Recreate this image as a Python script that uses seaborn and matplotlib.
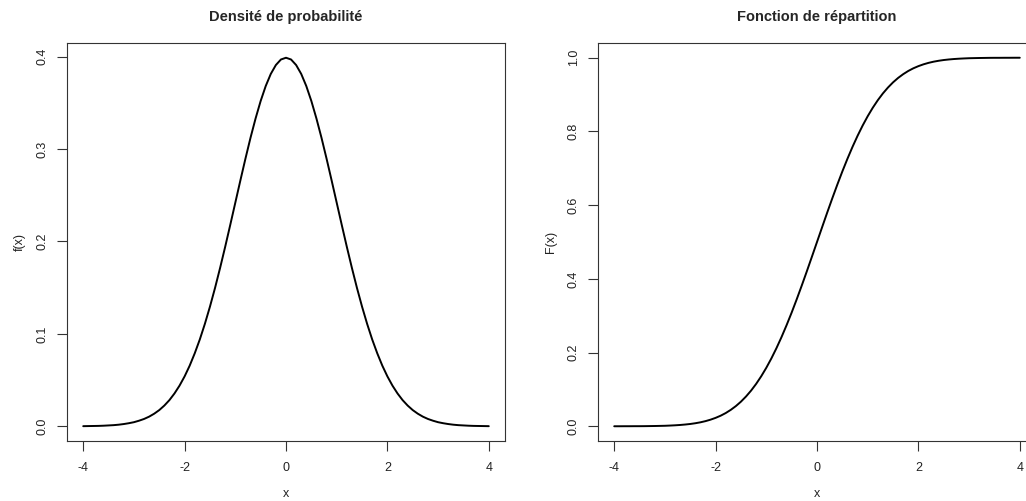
import matplotlib
matplotlib.use("Agg")
import matplotlib.pyplot as plt
import seaborn as sns
import pandas as pd

x_vals = [-4.0, -3.9, -3.8, -3.7, -3.6, -3.5, -3.4, -3.3, -3.2, -3.1,
          -3.0, -2.9, -2.8, -2.7, -2.6, -2.5, -2.4, -2.3, -2.2, -2.1,
          -2.0, -1.9, -1.8, -1.7, -1.6, -1.5, -1.4, -1.3, -1.2, -1.1,
          -1.0, -0.9, -0.8, -0.7, -0.6, -0.5, -0.4, -0.3, -0.2, -0.1,
          0.0, 0.1, 0.2, 0.3, 0.4, 0.5, 0.6, 0.7, 0.8, 0.9,
          1.0, 1.1, 1.2, 1.3, 1.4, 1.5, 1.6, 1.7, 1.8, 1.9,
          2.0, 2.1, 2.2, 2.3, 2.4, 2.5, 2.6, 2.7, 2.8, 2.9,
          3.0, 3.1, 3.2, 3.3, 3.4, 3.5, 3.6, 3.7, 3.8, 3.9, 4.0]
density = [0.0001, 0.0002, 0.0003, 0.0004, 0.0006, 0.0009, 0.0012, 0.0017, 0.0024, 0.0033,
           0.0044, 0.0060, 0.0079, 0.0104, 0.0136, 0.0175, 0.0224, 0.0283, 0.0355, 0.0440,
           0.0540, 0.0656, 0.0790, 0.0940, 0.1109, 0.1295, 0.1497, 0.1714, 0.1942, 0.2179,
           0.2420, 0.2661, 0.2897, 0.3123, 0.3332, 0.3521, 0.3683, 0.3814, 0.3910, 0.3970,
           0.3989, 0.3970, 0.3910, 0.3814, 0.3683, 0.3521, 0.3332, 0.3123, 0.2897, 0.2661,
           0.2420, 0.2179, 0.1942, 0.1714, 0.1497, 0.1295, 0.1109, 0.0940, 0.0790, 0.0656,
           0.0540, 0.0440, 0.0355, 0.0283, 0.0224, 0.0175, 0.0136, 0.0104, 0.0079, 0.0060,
           0.0044, 0.0033, 0.0024, 0.0017, 0.0012, 0.0009, 0.0006, 0.0004, 0.0003, 0.0002, 0.0001]
cdf = [0.0000, 0.0000, 0.0001, 0.0001, 0.0002, 0.0002, 0.0003, 0.0005, 0.0007, 0.0010,
       0.0013, 0.0019, 0.0026, 0.0035, 0.0047, 0.0062, 0.0082, 0.0107, 0.0139, 0.0179,
       0.0228, 0.0287, 0.0359, 0.0446, 0.0548, 0.0668, 0.0808, 0.0968, 0.1151, 0.1357,
       0.1587, 0.1841, 0.2119, 0.2420, 0.2743, 0.3085, 0.3446, 0.3821, 0.4207, 0.4602,
       0.5000, 0.5398, 0.5793, 0.6179, 0.6554, 0.6915, 0.7257, 0.7580, 0.7881, 0.8159,
       0.8413, 0.8643, 0.8849, 0.9032, 0.9192, 0.9332, 0.9452, 0.9554, 0.9641, 0.9713,
       0.9772, 0.9821, 0.9861, 0.9893, 0.9918, 0.9938, 0.9953, 0.9965, 0.9974, 0.9981,
       0.9987, 0.9990, 0.9993, 0.9995, 0.9997, 0.9998, 0.9998, 0.9999, 0.9999, 1.0000, 1.0000]
x_ticks = [-4, -2, 0, 2, 4]
y_ticks_left = [0.0, 0.1, 0.2, 0.3, 0.4]
y_ticks_right = [0.0, 0.2, 0.4, 0.6, 0.8, 1.0]
titles = ["Densité de probabilité", "Fonction de répartition"]
ylabels = ["f(x)", "F(x)"]

sns.set_style("ticks")
plt.rcParams['font.family'] = ['Liberation Sans', 'DejaVu Sans']

fig = plt.figure(figsize=(10.26, 5.01), dpi=100)
ax1 = fig.add_axes([67/1026, 60/501, 438/1026, 398/501])
ax2 = fig.add_axes([598/1026, 60/501, 438/1026, 398/501])

df = pd.DataFrame({"x": x_vals, "f": density, "F": cdf})
sns.lineplot(data=df, x="x", y="f", ax=ax1, color="black", linewidth=1.4, sort=False)
sns.lineplot(data=df, x="x", y="F", ax=ax2, color="black", linewidth=1.4, sort=False)

for ax, ymax, yt, title, yl in [(ax1, 0.3989, y_ticks_left, titles[0], ylabels[0]),
                                 (ax2, 1.0, y_ticks_right, titles[1], ylabels[1])]:
    ax.set_xlim(-4.32, 4.32)
    ax.set_ylim(-0.04 * ymax, 1.04 * ymax)
    ax.set_xticks(x_ticks)
    ax.set_xticklabels([str(v) for v in x_ticks])
    ax.set_yticks(yt)
    ax.set_yticklabels([f"{v:.1f}" for v in yt], rotation=90, va="center")
    ax.tick_params(axis="both", direction="out", length=7, width=0.8, colors="#333333",
                   labelsize=9, labelcolor="#222222")
    ax.tick_params(axis="y", pad=6)
    ax.tick_params(axis="x", pad=8)
    for s in ax.spines.values():
        s.set_visible(True)
        s.set_color("#333333")
        s.set_linewidth(0.8)
    ax.set_title(title, fontsize=10.5, fontweight="bold", pad=16)
    ax.set_xlabel("x", fontsize=9, labelpad=10, color="#222222")
    ax.set_ylabel(yl, fontsize=9, labelpad=8, color="#222222")
    ax.grid(False)

fig.savefig("out.png", dpi=100)
